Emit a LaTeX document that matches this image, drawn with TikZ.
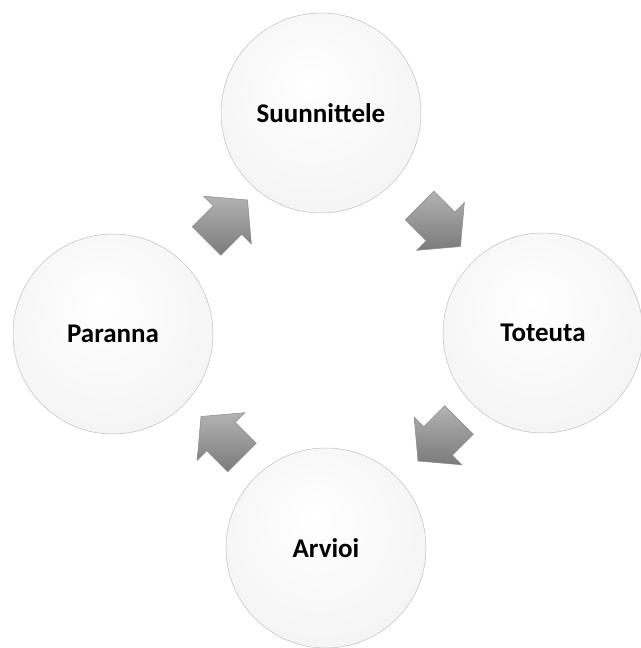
\documentclass[tikz,border=0pt]{standalone}
\usepackage{fontspec}
\setmainfont{Carlito}
\usetikzlibrary{calc,shapes.arrows}

\pgfdeclareradialshading{bubble}{\pgfpoint{-3bp}{8bp}}{%
	color(0bp)=(white);
	color(28bp)=(white!96!black);
	color(40bp)=(white!90!black);
	color(46bp)=(white!80!black);
	color(50bp)=(white!60!black)}

\begin{document}
\begin{tikzpicture}[
		x=1pt,y=1pt,
		phase/.style={
			circle,
			draw=black!25,
			line width=0.5pt,
			shading=bubble,
			minimum size=200pt,
			inner sep=0pt,
			align=center,
			font=\fontsize{27}{32}\selectfont\bfseries
		},
		cycarrow/.style={
			single arrow,
			draw=black!45,
			line width=0.5pt,
			top color=black!30,
			bottom color=black!52,
			minimum height=58pt,
			inner xsep=0pt,
			inner ysep=20pt,
			single arrow head extend=13.5pt,
			single arrow tip angle=100
		}
		]
		
		\useasboundingbox (0,0) rectangle (640,648);
		
		%--------------------------------------------------
		% Phases
		%--------------------------------------------------
		
		\node (suunn) [phase] at (321,535) {Suunnittele};
		
		\node (toteuta) [phase] at (543,315) {Toteuta};
		
		\node (arvioi) [phase] at (326,100) {Arvioi};
		
		\node (paranna) [phase] at (113,314) {Paranna};
		
		%--------------------------------------------------
		% Arrows
		%--------------------------------------------------
		
		\node (a1) [cycarrow,rotate=45]
		at ($(paranna)!0.5!(suunn)+(4,-3)$) {};
		
		\node (a2) [cycarrow,rotate=-45]
		at ($(suunn)!0.5!(toteuta)+(2,3)$) {};
		
		\node (a3) [cycarrow,rotate=-135]
		at ($(toteuta)!0.5!(arvioi)+(10,6)$) {};
		
		\node (a4) [cycarrow,rotate=135]
		at ($(arvioi)!0.5!(paranna)+(8,-2)$) {};
		
	\end{tikzpicture}
\end{document}
